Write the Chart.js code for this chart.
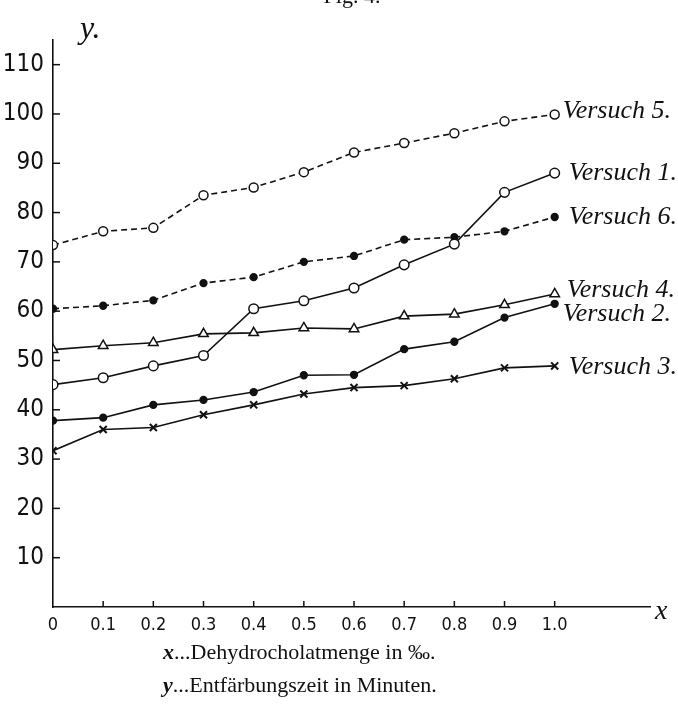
<!DOCTYPE html>
<html>
<head>
<meta charset="utf-8">
<script src="https://cdn.jsdelivr.net/npm/chart.js@4/dist/chart.umd.min.js"></script>
<style>
  html, body { margin: 0; padding: 0; background: #fff; }
  #wrap { position: relative; width: 678px; height: 718px; }
</style>
</head>
<body>
<div id="wrap"><canvas id="c" width="678" height="718"></canvas></div>
<script>
// ---- data ----
const xValues  = [0, 0.1, 0.2, 0.3, 0.4, 0.5, 0.6, 0.7, 0.8, 0.9, 1.0];
const versuch1 = [45.1, 46.5, 48.9, 51.0, 60.5, 62.1, 64.7, 69.4, 73.6, 84.1, 88.0];
const versuch2 = [37.8, 38.4, 41.0, 42.0, 43.6, 47.0, 47.1, 52.3, 53.8, 58.7, 61.5];
const versuch3 = [31.7, 36.0, 36.4, 39.0, 41.0, 43.2, 44.5, 44.9, 46.3, 48.5, 48.9];
const versuch4 = [52.2, 53.0, 53.6, 55.4, 55.6, 56.6, 56.4, 59.0, 59.4, 61.3, 63.5];
const versuch5 = [73.4, 76.2, 76.9, 83.5, 85.1, 88.2, 92.2, 94.1, 96.1, 98.5, 99.9];
const versuch6 = [60.5, 61.1, 62.2, 65.7, 66.9, 70.0, 71.2, 74.5, 75.0, 76.2, 79.1];
const seriesNames = ['Versuch 1.', 'Versuch 2.', 'Versuch 3.', 'Versuch 4.', 'Versuch 5.', 'Versuch 6.'];
const xTickValues = [0, 0.1, 0.2, 0.3, 0.4, 0.5, 0.6, 0.7, 0.8, 0.9, 1.0];
const xTickLabels = ['0', '0.1', '0.2', '0.3', '0.4', '0.5', '0.6', '0.7', '0.8', '0.9', '1.0'];
const yTickValues = [10, 20, 30, 40, 50, 60, 70, 80, 90, 100, 110];
const figureTitle = 'Fig. 4.';
const xAxisSymbol = 'x';
const yAxisSymbol = 'y.';
const captionX = ['x', '...Dehydrocholatmenge in ‰.'];
const captionY = ['y', '...Entfärbungszeit in Minuten.'];

// ---- styling (not data) ----
const INK = '#111';
const styles = [
  { v: versuch1, dash: [], point: 'circle', r: 4.8, fill: '#fff', dx: 14, dy: 0 },
  { v: versuch2, dash: [], point: 'circle', r: 3.4, fill: INK, dx: 8, dy: 10 },
  { v: versuch3, dash: [], point: 'crossRot', r: 5, fill: INK, dx: 14, dy: 1 },
  { v: versuch4, dash: [], point: 'triangle', r: 5.5, fill: '#fff', dx: 12, dy: -4 },
  { v: versuch5, dash: [6, 4], point: 'circle', r: 4.5, fill: '#fff', dx: 8, dy: -3 },
  { v: versuch6, dash: [6, 4], point: 'circle', r: 3.4, fill: INK, dx: 14, dy: 0 }
];

const datasets = styles.map((s, i) => ({
  label: seriesNames[i],
  data: xValues.map((x, k) => ({ x: x, y: s.v[k] })),
  borderColor: INK,
  borderWidth: 1.6,
  borderDash: s.dash,
  pointStyle: s.point,
  pointRadius: s.r,
  pointBorderWidth: s.point === 'crossRot' ? 2 : 1.5,
  pointBackgroundColor: s.fill,
  pointBorderColor: INK,
  tension: 0,
  fill: false
}));

const tickFontY = { family: '"Liberation Sans Narrow", "DejaVu Sans Condensed", "Liberation Sans", sans-serif', size: 24 };
const tickFontX = { family: '"Liberation Sans Narrow", "DejaVu Sans Condensed", "Liberation Sans", sans-serif', size: 18 };

const decor = {
  id: 'decor',
  afterDraw(chart) {
    const ctx = chart.ctx;
    const xs = chart.scales.x, ys = chart.scales.y;
    const ax = xs.getPixelForValue(0), ay = ys.getPixelForValue(0);
    ctx.save();
    ctx.strokeStyle = INK;
    ctx.lineWidth = 1.5;
    ctx.setLineDash([]);
    // inward tick marks
    yTickValues.forEach(v => {
      const py = ys.getPixelForValue(v);
      ctx.beginPath(); ctx.moveTo(ax, py); ctx.lineTo(ax + 7, py); ctx.stroke();
    });
    xTickValues.forEach(v => {
      if (v === 0) return;
      const px = xs.getPixelForValue(v);
      ctx.beginPath(); ctx.moveTo(px, ay); ctx.lineTo(px, ay - 6); ctx.stroke();
    });
    // series labels
    ctx.fillStyle = INK;
    ctx.textBaseline = 'middle';
    ctx.textAlign = 'left';
    ctx.font = 'italic 26px "Liberation Serif", "DejaVu Serif", serif';
    styles.forEach((s, i) => {
      const pts = chart.getDatasetMeta(i).data;
      const p = pts[pts.length - 1];
      ctx.fillText(seriesNames[i], p.x + s.dx, p.y + s.dy);
    });
    // axis symbols
    ctx.textBaseline = 'alphabetic';
    ctx.font = 'italic 32px "Liberation Serif", "DejaVu Serif", serif';
    ctx.fillText(yAxisSymbol, ax + 27, 38);
    ctx.font = 'italic 28px "Liberation Serif", "DejaVu Serif", serif';
    ctx.fillText(xAxisSymbol, xs.right + 5, ay + 12);
    // figure title (cut at top)
    ctx.font = '22px "Liberation Serif", serif';
    ctx.textAlign = 'center';
    ctx.fillText(figureTitle, 352, 3);
    // captions
    ctx.textAlign = 'left';
    const drawCaption = (parts, y) => {
      ctx.font = 'bold italic 22px "Liberation Serif", serif';
      ctx.fillText(parts[0], 163, y);
      const w = ctx.measureText(parts[0]).width;
      ctx.font = '22px "Liberation Serif", serif';
      ctx.fillText(parts[1], 163 + w, y);
    };
    drawCaption(captionX, 659);
    drawCaption(captionY, 692);
    ctx.restore();
  }
};

new Chart(document.getElementById('c'), {
  type: 'line',
  data: { datasets },
  options: {
    responsive: false,
    animation: false,
    layout: { padding: { left: 0, right: 28, top: 40, bottom: 0 } },
    plugins: { legend: { display: false }, tooltip: { enabled: false } },
    scales: {
      x: {
        type: 'linear', min: 0, max: 1.19,
        afterFit: s => { s.height = 111; },
        afterBuildTicks: s => { s.ticks = xTickValues.map(v => ({ value: v })); },
        grid: { display: false, drawTicks: false },
        border: { display: true, color: INK, width: 1.6 },
        ticks: {
          color: INK, font: tickFontX, padding: 8, maxRotation: 0, autoSkip: false,
          callback: (v, i) => xTickLabels[i]
        }
      },
      y: {
        type: 'linear', min: 0, max: 115,
        afterFit: s => { s.width = 53; },
        afterBuildTicks: s => { s.ticks = yTickValues.map(v => ({ value: v })); },
        grid: { display: false, drawTicks: false },
        border: { display: true, color: INK, width: 1.6 },
        ticks: { color: INK, font: tickFontY, padding: 9, autoSkip: false, callback: v => String(v) }
      }
    }
  },
  plugins: [decor]
});
</script>
</body>
</html>
